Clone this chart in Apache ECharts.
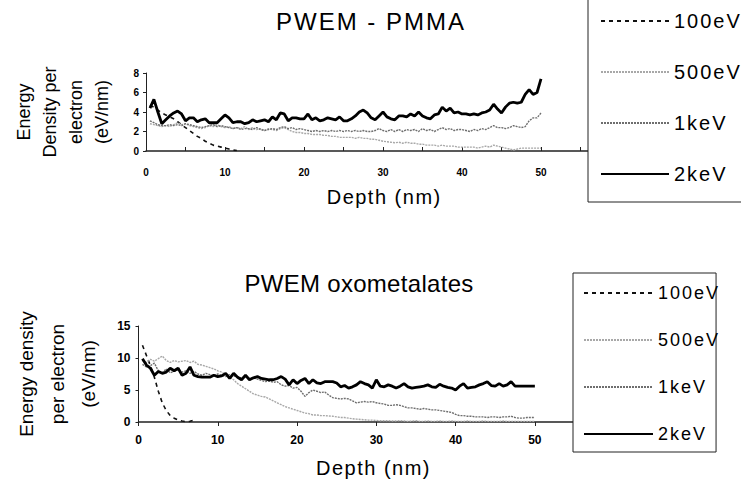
<!DOCTYPE html>
<html>
<head>
<meta charset="utf-8">
<script src="https://cdn.jsdelivr.net/npm/echarts@6/dist/echarts.min.js"></script>
<style>
  html, body { margin: 0; padding: 0; background: #fff; }
  #chart { width: 741px; height: 481px; }
</style>
</head>
<body>
<div id="chart"></div>
<script>
// Depth samples (nm) shared by every curve
const depth = [
  0.5, 1, 1.5, 2, 2.5, 3, 3.5, 4, 4.5, 5, 5.5, 6, 6.5, 7, 7.5, 8, 8.5, 9, 9.5, 10,
  10.5, 11, 11.5, 12, 12.5, 13, 13.5, 14, 14.5, 15, 15.5, 16, 16.5, 17, 17.5, 18, 18.5, 19, 19.5, 20,
  20.5, 21, 21.5, 22, 22.5, 23, 23.5, 24, 24.5, 25, 25.5, 26, 26.5, 27, 27.5, 28, 28.5, 29, 29.5, 30,
  30.5, 31, 31.5, 32, 32.5, 33, 33.5, 34, 34.5, 35, 35.5, 36, 36.5, 37, 37.5, 38, 38.5, 39, 39.5, 40,
  40.5, 41, 41.5, 42, 42.5, 43, 43.5, 44, 44.5, 45, 45.5, 46, 46.5, 47, 47.5, 48, 48.5, 49, 49.5, 50
];

const seriesNames = ['100eV', '500eV', '1keV', '2keV'];

// Tick labels
const depthTicks = [0, 10, 20, 30, 40, 50];
const pmmaTicks = [0, 2, 4, 6, 8];
const oxoTicks = [0, 5, 10, 15];

// PWEM - PMMA, energy density per electron (eV/nm)
const pmma100eV = [
  4.7, 4.5, 4.2, 3.9, 3.7, 3.5, 3.3, 3.0, 2.7, 2.4, 2.1, 1.8, 1.5, 1.3, 1.0, 0.8, 0.6, 0.5, 0.4, 0.3,
  0.2, 0.1, 0.05
];
const pmma500eV = [
  2.8, 2.7, 2.6, 2.5, 2.6, 2.5, 2.7, 2.9, 2.7, 2.8, 2.6, 2.5, 2.4, 2.3, 2.4, 2.6, 2.5, 2.7, 2.5, 2.4,
  2.5, 2.3, 2.4, 2.3, 2.5, 2.2, 2.4, 2.2, 2.3, 2.1, 2.3, 2.2, 2.1, 2.3, 2.4, 2.2, 2.0, 1.9, 1.9, 1.8,
  1.8, 1.7, 1.7, 1.7, 1.6, 1.6, 1.5, 1.5, 1.4, 1.4, 1.4, 1.4, 1.3, 1.4, 1.3, 1.3, 1.2, 1.2, 1.1, 1.0,
  0.95, 0.9, 0.85, 0.9, 0.8, 0.9, 0.8, 0.8, 0.7, 0.7, 0.6, 0.6, 0.6, 0.5, 0.6, 0.5, 0.5, 0.5, 0.4, 0.4,
  0.4, 0.4, 0.4, 0.3, 0.4, 0.5, 0.4, 0.6, 0.5, 0.4, 0.3, 0.2, 0.1, 0.2, 0.3, 0.3, 0.3, 0.3, 0.3, 0.3
];
const pmma1keV = [
  3.1, 2.9, 2.7, 2.6, 2.6, 2.7, 2.6, 2.7, 2.6, 2.8, 2.7, 2.6, 2.5, 2.4, 2.5, 2.6, 2.7, 2.5, 2.6, 2.5,
  2.4, 2.3, 2.4, 2.2, 2.3, 2.3, 2.2, 2.4, 2.2, 2.1, 2.2, 2.3, 2.2, 2.4, 2.5, 2.3, 2.4, 2.2, 2.3, 2.2,
  2.1, 2.0, 2.1, 2.0, 2.1, 2.0, 2.1, 2.0, 2.1, 2.0, 2.1, 2.0, 2.1, 2.0, 2.1, 2.0, 2.0, 2.1, 2.3, 2.1,
  2.0, 2.2, 2.0, 2.2, 2.0, 2.2, 2.1, 2.2, 2.0, 2.3, 2.1, 2.2, 2.0, 2.2, 2.4, 2.2, 2.3, 2.1, 2.2, 2.2,
  2.1, 2.0, 2.2, 2.1, 2.3, 2.2, 2.4, 2.6, 2.4, 2.4, 2.3, 2.4, 2.6, 2.5, 2.4, 2.5, 3.1, 3.4, 3.4, 3.9
];
const pmma2keV = [
  4.4, 5.3, 4.0, 2.8, 3.2, 3.6, 3.9, 4.1, 3.8, 3.1, 3.4, 3.4, 3.0, 3.2, 3.3, 2.9, 2.9, 2.9, 3.3, 3.7,
  3.4, 2.9, 3.0, 3.0, 2.8, 2.9, 3.2, 3.0, 3.1, 3.2, 3.0, 3.5, 3.2, 3.9, 3.8, 3.1, 3.4, 3.4, 3.3, 3.3,
  3.8, 3.2, 3.4, 3.1, 3.2, 3.4, 3.3, 3.2, 3.5, 3.1, 3.1, 3.3, 3.6, 4.0, 4.2, 3.9, 3.4, 3.2, 3.6, 4.0,
  3.5, 3.3, 3.2, 3.6, 3.6, 3.5, 3.8, 3.6, 4.0, 3.6, 3.4, 3.3, 3.7, 3.8, 4.5, 4.1, 4.4, 3.9, 4.0, 3.8,
  3.8, 3.7, 3.8, 3.7, 3.9, 4.0, 4.2, 4.8, 4.3, 3.9, 4.5, 4.9, 5.0, 4.9, 5.0, 5.8, 6.3, 5.8, 6.0, 7.4
];

// PWEM oxometalates, energy density per electron (eV/nm)
const oxo100eV = [
  12.0, 10.4, 8.8, 7.0, 4.8, 3.0, 1.8, 1.0, 0.6, 0.3, 0.15, 0.05, 0.1, 0.3
];
const oxo500eV = [
  9.6, 9.3, 9.8, 9.5, 9.9, 10.3, 9.6, 9.3, 9.6, 9.4, 9.5, 9.6, 9.3, 9.5, 9.0, 8.9, 8.7, 8.5, 8.3, 8.0,
  7.8, 7.4, 7.0, 6.6, 6.0, 5.6, 5.2, 4.8, 4.4, 4.2, 4.0, 3.9, 3.6, 3.3, 3.0, 2.7, 2.4, 2.2, 2.0, 1.8,
  1.6, 1.4, 1.3, 1.1, 1.1, 1.0, 1.0, 0.95, 0.9, 0.8, 0.7, 0.7, 0.6, 0.5, 0.45, 0.4, 0.35, 0.3, 0.3, 0.25,
  0.2, 0.2, 0.2, 0.15, 0.15, 0.2, 0.15, 0.1, 0.15, 0.2, 0.1, 0.1, 0.15, 0.1, 0.1, 0.15, 0.1, 0.1, 0.15, 0.1,
  0.1, 0.1, 0.15, 0.1, 0.1, 0.1, 0.15, 0.1, 0.1, 0.1, 0.1, 0.15, 0.1, 0.1, 0.1, 0.1, 0.1, 0.1, 0.1, 0.1
];
const oxo1keV = [
  9.0, 8.6, 8.8, 9.2, 8.0, 7.6, 8.3, 7.7, 7.9, 8.2, 7.8, 8.0, 7.6, 7.9, 7.5, 7.3, 7.6, 7.4, 7.2, 7.5,
  7.3, 7.1, 7.4, 7.2, 7.0, 6.9, 7.1, 6.8, 6.9, 6.7, 6.5, 6.3, 6.4, 6.2, 6.3, 5.8, 5.6, 5.7, 5.3, 5.4,
  4.8, 4.0, 4.6, 5.0, 4.8, 4.6, 4.7, 4.2, 3.8, 3.7, 3.6, 3.7, 3.6, 3.3, 3.0, 3.1, 3.2, 3.1, 3.2, 3.0,
  2.9, 2.8, 2.6, 2.6, 2.7, 2.6, 2.4, 2.2, 2.2, 2.1, 2.0, 2.1, 2.0, 1.9, 1.9, 1.8, 1.7, 1.6, 1.5, 1.2,
  1.0, 1.0, 0.9, 0.9, 0.8, 0.8, 0.8, 0.7, 0.8, 0.8, 0.7, 0.8, 0.8, 0.9, 0.7, 0.6, 0.6, 0.7, 0.7, 0.7
];
const oxo2keV = [
  9.9, 8.9, 8.4, 7.3, 7.9, 7.6, 7.8, 8.4, 8.0, 8.4, 7.3, 7.6, 8.6, 7.3, 7.1, 7.0, 7.0, 7.0, 7.3, 7.1,
  7.2, 7.6, 6.8, 7.6, 7.0, 6.6, 7.3, 6.6, 6.9, 7.1, 6.8, 6.7, 6.6, 6.6, 6.8, 7.1, 6.7, 5.8, 6.6, 6.0,
  6.5, 6.8, 6.0, 6.6, 6.1, 6.0, 6.3, 6.3, 6.3, 6.1, 5.5, 5.7, 5.3, 5.5, 5.8, 6.3, 6.0, 5.8, 5.3, 6.6,
  5.6, 5.5, 5.8, 5.6, 5.3, 5.6, 6.0, 5.5, 5.3, 5.4, 5.5, 5.6, 5.8, 5.5, 5.4, 5.9, 5.6, 5.4, 5.3, 5.0,
  5.6, 6.0, 5.3, 5.4, 5.5, 5.8, 6.0, 6.3, 5.7, 5.6, 6.0, 5.6, 5.8, 6.3, 5.6, 5.6, 5.6, 5.6, 5.6, 5.6
];

const FONT = "'Liberation Sans', Arial, Helvetica, sans-serif";

// Line look for each beam energy
const lineLook = {
  '100eV': { color: '#111', width: 1.6, type: [4, 4] },
  '500eV': { color: '#a8a8a8', width: 1.4, type: [2, 1] },
  '1keV':  { color: '#6e6e6e', width: 1.4, type: [2, 1] },
  '2keV':  { color: '#000', width: 2.8, type: 'solid' }
};

// Extra tracking for the wide-set headings and legend entries
const textTracking = {
  'PWEM - PMMA': 2,
  'PWEM oxometalates': 0.3,
  'Depth (nm)': 1.5,
  '100eV': 2,
  '500eV': 2,
  '1keV': 2,
  '2keV': 2
};

function pairs(values) {
  return values.map((v, i) => [depth[i], v]);
}

function makeSeries(name, values, gridIdx) {
  const look = lineLook[name];
  return {
    name: name,
    type: 'line',
    xAxisIndex: gridIdx,
    yAxisIndex: gridIdx,
    data: pairs(values),
    symbol: 'none',
    showSymbol: false,
    smooth: false,
    silent: true,
    z: name === '2keV' ? 5 : 3,
    lineStyle: { color: look.color, width: look.width, type: look.type },
    itemStyle: { color: look.color }
  };
}

const depthLabel = v => (depthTicks.indexOf(v) >= 0 ? String(v) : '');

const chart = echarts.init(document.getElementById('chart'), null, { renderer: 'svg' });

chart.setOption({
  animation: false,
  backgroundColor: '#fff',
  textStyle: { fontFamily: FONT, color: '#000' },
  title: [
    {
      text: 'PWEM - PMMA',
      left: 366, top: 4, textAlign: 'center',
      textStyle: { fontFamily: FONT, fontSize: 24, fontWeight: 'normal', color: '#000' }
    },
    {
      text: 'PWEM oxometalates',
      left: 354, top: 266, textAlign: 'center',
      textStyle: { fontFamily: FONT, fontSize: 24, fontWeight: 'normal', color: '#000' }
    }
  ],
  legend: [
    {
      data: seriesNames,
      orient: 'vertical',
      left: 588, top: -2,
      itemWidth: 68, itemHeight: 14, itemGap: 31,
      padding: [13, 12, 18, 12],
      borderColor: '#222', borderWidth: 1,
      backgroundColor: '#fff',
      selectedMode: false,
      itemStyle: { opacity: 0 },
      textStyle: { fontFamily: FONT, fontSize: 20, color: '#000' }
    },
    {
      data: seriesNames,
      orient: 'vertical',
      left: 573, top: 273,
      itemWidth: 69, itemHeight: 14, itemGap: 29,
      padding: [11, 6, 9, 10],
      borderColor: '#222', borderWidth: 1,
      backgroundColor: '#fff',
      selectedMode: false,
      itemStyle: { opacity: 0 },
      textStyle: { fontFamily: FONT, fontSize: 18, color: '#000' }
    }
  ],
  grid: [
    { left: 146, top: 73, width: 442.4, height: 78 },
    { left: 138.5, top: 326, width: 436, height: 96 }
  ],
  xAxis: [
    {
      type: 'value', gridIndex: 0,
      min: 0, max: 56, interval: 5,
      name: 'Depth (nm)', nameLocation: 'middle', nameGap: 36,
      nameTextStyle: { fontFamily: FONT, fontSize: 20, color: '#000', padding: [0, 0, 0, 34] },
      axisLine: { lineStyle: { color: '#222', width: 1.5 } },
      axisTick: { inside: true, length: 4, lineStyle: { color: '#222' } },
      axisLabel: { margin: 16, fontSize: 10, fontWeight: 'bold', color: '#000', formatter: depthLabel },
      splitLine: { show: false }
    },
    {
      type: 'value', gridIndex: 1,
      min: 0, max: 55, interval: 10,
      name: 'Depth (nm)', nameLocation: 'middle', nameGap: 36,
      nameTextStyle: { fontFamily: FONT, fontSize: 20, color: '#000', padding: [0, 0, 0, 34] },
      axisLine: { lineStyle: { color: '#222', width: 1.5 } },
      axisTick: { inside: false, length: 4, lineStyle: { color: '#222' } },
      axisLabel: { margin: 12, fontSize: 12, fontWeight: 'bold', color: '#000', formatter: depthLabel },
      splitLine: { show: false }
    }
  ],
  yAxis: [
    {
      type: 'value', gridIndex: 0,
      min: pmmaTicks[0], max: pmmaTicks[pmmaTicks.length - 1], interval: 2,
      name: 'Energy\nDensity per\nelectron\n(eV/nm)', nameLocation: 'middle', nameRotate: 90, nameGap: 31,
      nameTextStyle: { fontFamily: FONT, fontSize: 18, lineHeight: 26, color: '#000', align: 'center' },
      axisLine: { show: true, lineStyle: { color: '#222', width: 1 } },
      axisTick: { show: true, length: 3, lineStyle: { color: '#222' } },
      axisLabel: { margin: 7, fontSize: 10, fontWeight: 'bold', color: '#000' },
      splitLine: { show: false }
    },
    {
      type: 'value', gridIndex: 1,
      min: oxoTicks[0], max: oxoTicks[oxoTicks.length - 1], interval: 5,
      name: 'Energy density\nper electron\n(eV/nm)', nameLocation: 'middle', nameRotate: 90, nameGap: 35,
      nameTextStyle: { fontFamily: FONT, fontSize: 19, lineHeight: 31, color: '#000', align: 'center' },
      axisLine: { show: true, lineStyle: { color: '#222', width: 1 } },
      axisTick: { show: true, length: 3, lineStyle: { color: '#222' } },
      axisLabel: { margin: 8, fontSize: 12, fontWeight: 'bold', color: '#000' },
      splitLine: { show: false }
    }
  ],
  series: [
    makeSeries('100eV', pmma100eV, 0),
    makeSeries('500eV', pmma500eV, 0),
    makeSeries('1keV', pmma1keV, 0),
    makeSeries('2keV', pmma2keV, 0),
    makeSeries('100eV', oxo100eV, 1),
    makeSeries('500eV', oxo500eV, 1),
    makeSeries('1keV', oxo1keV, 1),
    makeSeries('2keV', oxo2keV, 1)
  ]
});

// Open up the letter spacing of the SVG text nodes listed above
function applyTracking() {
  document.querySelectorAll('#chart svg text').forEach(function (node) {
    const s = textTracking[node.textContent];
    if (s) node.style.letterSpacing = s + 'px';
  });
}
applyTracking();
chart.on('finished', applyTracking);
</script>
</body>
</html>
